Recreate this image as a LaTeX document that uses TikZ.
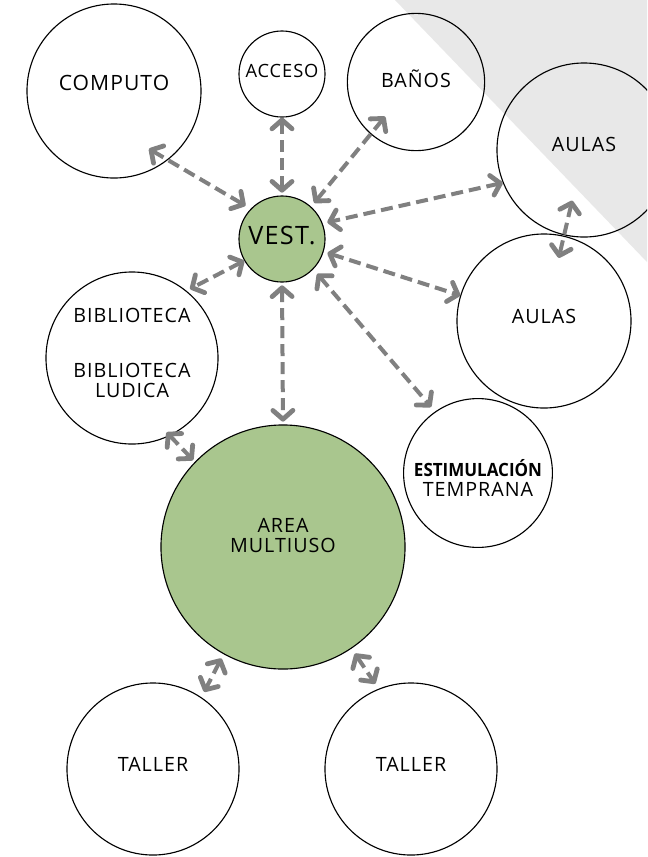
\documentclass[tikz,border=0pt]{standalone}
\usepackage{fontspec}
\setmainfont{Open Sans}
\usetikzlibrary{arrows.meta}

\definecolor{vestgreen}{RGB}{169,198,142}
\definecolor{bggray}{RGB}{232,232,232}
\definecolor{linkgray}{RGB}{128,128,128}

\begin{document}
\begin{tikzpicture}[
    x=0.025cm, y=-0.025cm,
    room/.style={circle, draw, line width=0.8pt, inner sep=0pt},
    core/.style={room, fill=vestgreen},
    tag/.style={font=\fontsize{#1}{14}\selectfont\addfontfeature{LetterSpace=5}, align=center},
    link/.style={draw=linkgray, line width=0.1cm, dash pattern=on 0.3cm off 0.15cm, {Straight Barb[length=0.22cm, width=0.5cm, line width=0.12cm, round]}-{Straight Barb[length=0.22cm, width=0.5cm, line width=0.12cm, round]}}
]
    \useasboundingbox (0,0) rectangle (647,857);
    \clip (0,0) rectangle (647,857);
    \fill[white] (0,0) rectangle (647,857);
    \fill[bggray] (395,0) -- (647,0) -- (647,262) -- cycle;

    % Rooms
    \node[room, minimum size=4.35cm, label={[tag=15, yshift=0.2cm]center:COMPUTO}] (computo) at (114,91) {};
    \node[room, minimum size=2.15cm, label={[tag=13, yshift=0.07cm]center:ACCESO}] (acceso) at (282,74) {};
    \node[room, minimum size=3.43cm, label={[tag=14, yshift=0.07cm]center:BAÑOS}] (banos) at (416,82) {};
    \node[room, minimum size=4.35cm, label={[tag=14, yshift=0.15cm]center:AULAS}] (aulasA) at (584,150) {};
    \node[room, minimum size=4.35cm, label={[tag=14, yshift=0.12cm]center:AULAS}] (aulasB) at (544,321) {};
    \node[room, minimum size=4.3cm, label={[tag=14, yshift=0.12cm]center:{BIBLIOTECA\\[25pt]BIBLIOTECA\\LUDICA}}] (bib) at (132,358) {};
    \node[room, minimum size=3.72cm, label={[tag=14, yshift=-0.13cm]center:{\scalebox{0.93}[1]{\bfseries\fontsize{13}{13}\selectfont\addfontfeature{LetterSpace=0}ESTIMULACIÓN}\\TEMPRANA}}] (estim) at (478,473) {};
    \node[room, minimum size=4.3cm, label={[tag=14, yshift=0.12cm]center:TALLER}] (tallerL) at (153,769) {};
    \node[room, minimum size=4.3cm, label={[tag=14, yshift=0.12cm]center:TALLER}] (tallerR) at (411,769) {};

    % Common spaces
    \node[core, minimum size=6.1cm, label={[tag=14, yshift=0.29cm]center:{AREA\\MULTIUSO}}] (area) at (283,547) {};
    \node[core, minimum size=2.15cm, label={[tag=18, yshift=0.08cm]center:VEST.}] (vest) at (282,239) {};

    % Links to the hall
    \draw[link, shorten <=-0.55cm, shorten >=0.15cm] (computo.-52) -- (vest.136);
    \draw[link, shorten >=0.07cm] (acceso.south) -- (vest.north);
    \draw[link, shorten <=-0.57cm, shorten >=0.12cm] (banos.-131) -- (vest.48);
    \draw[link, shorten >=0.12cm] (aulasA.-158) -- (vest.21);
    \draw[link, shorten <=0.1cm] (vest.-17) -- (aulasB.163);
    \draw[link, shorten >=0.1cm] (vest.-150) -- (bib.51);
    \draw[link, shorten <=0.15cm, shorten >=0.15cm] (vest.-44) -- (estim.125);
    \draw[link, shorten <=0.07cm, shorten >=0.07cm] (vest.south) -- (area.north);

    % Other links
    \draw[link, shorten <=1.3cm, shorten >=1.62cm] (aulasA.center) -- (aulasB.center);
    \draw[link, shorten <=-0.12cm, shorten >=0.06cm] (bib.-64) -- (area.136);
    \draw[link, shorten <=0.12cm, shorten >=0.15cm] (area.-119) -- (tallerL.56);
    \draw[link, shorten <=0.15cm, shorten >=0.15cm] (area.-56) -- (tallerR.112);

\end{tikzpicture}
\end{document}
